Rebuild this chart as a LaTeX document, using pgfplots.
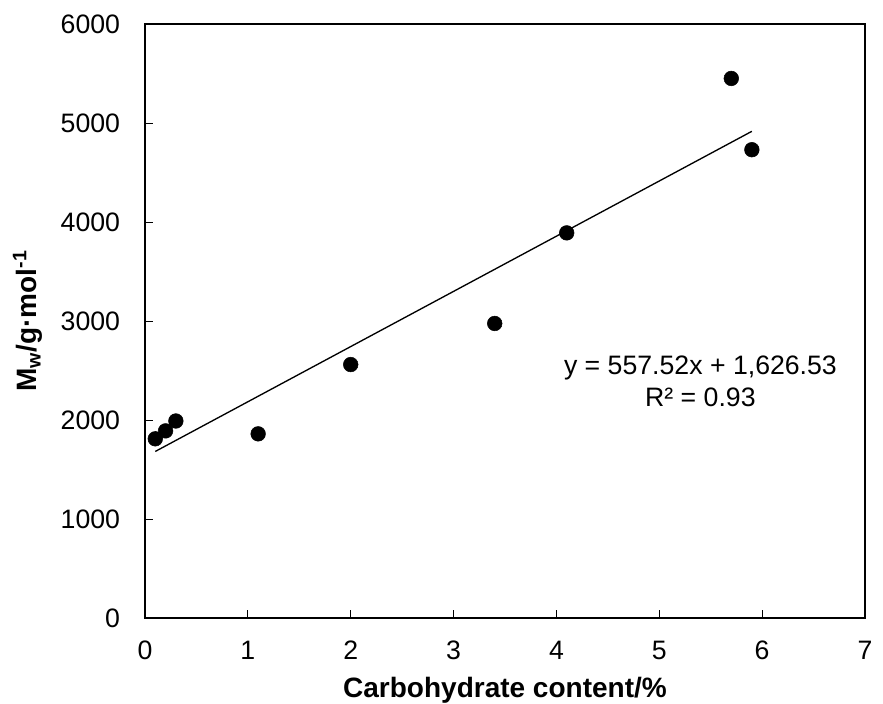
\documentclass[border=0pt]{standalone}
\usepackage{fontspec}
\setmainfont{Liberation Sans}
\usepackage{pgfplots}
\pgfplotsset{compat=1.18}
\begin{document}
\begin{tikzpicture}
\begin{axis}[
  name=ax,
  scale only axis,
  width=540pt, height=445.5pt,
  xmin=0, xmax=7, ymin=0, ymax=6000,
  xtick={0,1,...,7}, ytick={0,1000,...,6000},
  axis line style={line width=1.5pt},
  tick align=inside, major tick length=6pt,
  xtick pos=bottom, ytick pos=left,
  every tick/.style={black, line width=0.7pt},
  tick label style={font=\fontsize{20}{24}\selectfont, inner sep=0pt},
  /pgf/number format/1000 sep={},
  /pgf/number format/assume math mode=true,
  xticklabel style={anchor=north, yshift=-17pt},
  yticklabel style={anchor=east, xshift=-18.5pt},
  xlabel={\textbf{Carbohydrate content/\%}},
  ylabel={\textbf{M\textsubscript{w}/g·mol\textsuperscript{-1}}},
  label style={font=\fontsize{21}{25}\selectfont},
  xlabel style={at={(axis description cs:0.5,0)}, anchor=center, yshift=-54pt},
  ylabel style={at={(axis description cs:0,0.5)}, anchor=center, yshift=88pt},
  clip=false,
]
\addplot[only marks, mark=*, mark size=5.5pt, black] coordinates {
  (0.1,1810) (0.2,1890) (0.3,1990) (1.1,1860) (2.0,2560)
  (3.4,2975) (4.1,3890) (5.7,5450) (5.9,4730)};
\addplot[black, line width=1pt] coordinates {(0.1,1682.28) (5.9,4915.90)};
\node[align=center, font=\fontsize{20}{24}\selectfont] at (axis cs:5.4,2390)
  {y = 557.52x + 1,626.53\\R² = 0.93};
\end{axis}
\pgfresetboundingbox
\path ([xshift=-108.75pt,yshift=-64.5pt]ax.south west) rectangle ([xshift=13.5pt,yshift=18pt]ax.north east);
\end{tikzpicture}
\end{document}
